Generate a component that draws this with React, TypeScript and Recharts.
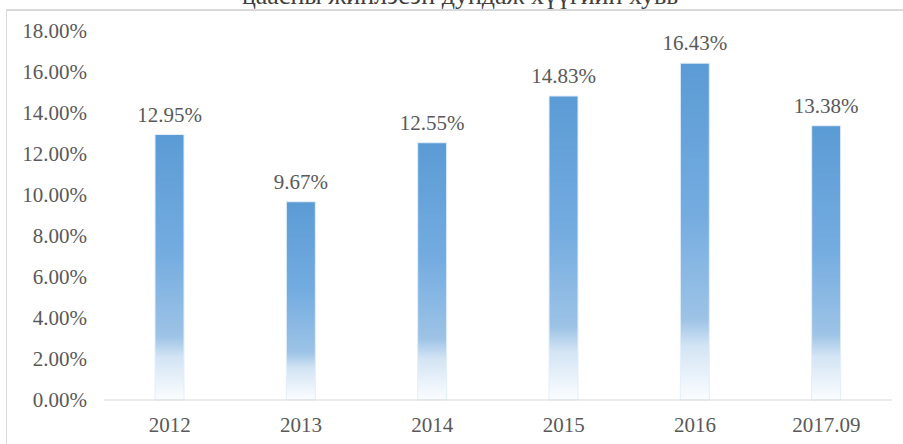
import React from 'react';
import { BarChart, Bar, XAxis, YAxis, LabelList } from 'recharts';

const years = ['2012', '2013', '2014', '2015', '2016', '2017.09'];
const rates = [12.95, 9.67, 12.55, 14.83, 16.43, 13.38];
const yTicks = [0, 2, 4, 6, 8, 10, 12, 14, 16, 18];
const title = 'цаасны жинлэсэн дундаж хүүгийн хувь';

const data = years.map((year, i) => ({ year, rate: rates[i] }));

const font = '"Liberation Serif", "Times New Roman", serif';
const textGray = '#595959';
const pct = (v: number) => `${Number(v).toFixed(2)}%`;

export default function App() {
  return (
    <div style={{ position: 'absolute', left: 0, top: 0, width: 903, height: 444, overflow: 'hidden', background: '#fff', fontFamily: font }}>
      {/* frame of the chart area, cut by the screenshot */}
      <div
        style={{
          position: 'absolute',
          left: 6,
          top: 9,
          width: 920,
          height: 460,
          borderLeft: '1px solid #d9d9d9',
          borderTop: '2px solid #d9d9d9',
        }}
      />
      {/* title, only its lower part is visible */}
      <div
        style={{
          position: 'absolute',
          left: 0,
          top: -17,
          width: 920,
          textAlign: 'center',
          fontFamily: font,
          fontSize: 26,
          lineHeight: '26px',
          color: '#404040',
          whiteSpace: 'nowrap',
        }}
      >
        {title}
      </div>
      <div style={{ position: 'absolute', left: 0, top: 0 }}>
        <BarChart width={903} height={444} data={data} margin={{ top: 31, right: 11, bottom: 0, left: 0 }} style={{ fontFamily: font }}>
          <defs>
            <linearGradient id="barFade" x1="0" y1="0" x2="0" y2="1">
              <stop offset="0%" stopColor="#5b9bd5" />
              <stop offset="45%" stopColor="#74ace0" />
              <stop offset="76%" stopColor="#9dc3e6" />
              <stop offset="84%" stopColor="#d3e4f4" />
              <stop offset="100%" stopColor="#fbfdff" />
            </linearGradient>
          </defs>
          <XAxis
            dataKey="year"
            height={44}
            axisLine={{ stroke: '#d9d9d9', strokeWidth: 1 }}
            tickLine={false}
            tickSize={0}
            tickMargin={17}
            tick={{ fill: textGray, fontSize: 21, style: { fontFamily: font } }}
          />
          <YAxis
            width={104}
            domain={[0, 18]}
            ticks={yTicks}
            axisLine={false}
            tickLine={false}
            tickSize={0}
            tickMargin={17}
            tick={{ fill: textGray, fontSize: 21, style: { fontFamily: font } }}
            tickFormatter={pct}
          />
          <Bar dataKey="rate" barSize={29} fill="url(#barFade)" stroke="#e3eef9" strokeWidth={1} isAnimationActive={false}>
            <LabelList
              dataKey="rate"
              position="top"
              offset={13}
              fill={textGray}
              fontSize={21}
              style={{ fontFamily: font }}
              formatter={pct}
            />
          </Bar>
        </BarChart>
      </div>
    </div>
  );
}
